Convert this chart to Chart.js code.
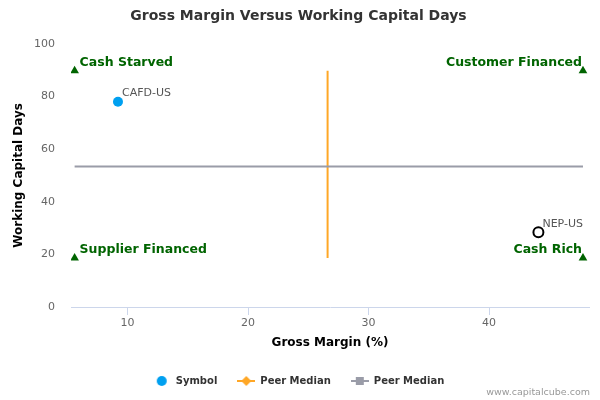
<!DOCTYPE html>
<html>
<head>
<meta charset="utf-8">
<script src="https://cdn.jsdelivr.net/npm/chart.js@4"></script>
<style>
  html, body { margin: 0; padding: 0; background: #fff; }
  #wrap { width: 600px; height: 400px; }
</style>
</head>
<body>
<div id="wrap"><canvas id="chart"></canvas></div>
<script>
// valores
const quadrantNames = ['Cash Starved', 'Customer Financed', 'Supplier Financed', 'Cash Rich'];
const quadrantX = [5.6, 47.8, 5.6, 47.8];
const quadrantY = [89.8, 89.8, 18.6, 18.6];
const symbolNames = ['CAFD-US', 'NEP-US'];
const symbolX = [9.2, 44.1];
const symbolY = [78, 28.4];
const peerMedianX = 26.6;
const peerMedianY = 53.4;
const xTicks = [10, 20, 30, 40];
const yTicks = [0, 20, 40, 60, 80, 100];

const FONT = "'DejaVu Sans', Verdana, sans-serif";

function legendIcon(kind) {
    const c = document.createElement('canvas');
    c.width = 18; c.height = 12;
    const g = c.getContext('2d');
    if (kind === 'circle') {
        g.fillStyle = '#00a0f0';
        g.beginPath(); g.arc(9, 6, 5, 0, Math.PI * 2); g.fill();
    } else if (kind === 'orange') {
        g.strokeStyle = '#ffa726'; g.lineWidth = 2;
        g.beginPath(); g.moveTo(0, 6); g.lineTo(18, 6); g.stroke();
        g.fillStyle = '#ffa726';
        g.beginPath(); g.moveTo(9, 1); g.lineTo(14, 6); g.lineTo(9, 11); g.lineTo(4, 6); g.closePath(); g.fill();
    } else {
        g.strokeStyle = '#9a9ca8'; g.lineWidth = 2;
        g.beginPath(); g.moveTo(0, 6); g.lineTo(18, 6); g.stroke();
        g.fillStyle = '#9a9ca8';
        g.fillRect(5, 2, 8, 8);
    }
    return c;
}

const labelsPlugin = {
    id: 'labelsPlugin',
    afterDatasetsDraw(chart) {
        const ctx = chart.ctx;
        const xs = chart.scales.x, ys = chart.scales.y;
        ctx.save();
        // nomes dos quadrantes
        ctx.font = 'bold 12.5px ' + FONT;
        ctx.fillStyle = '#006400';
        ctx.textBaseline = 'bottom';
        quadrantNames.forEach((n, i) => {
            const px = xs.getPixelForValue(quadrantX[i]);
            const py = ys.getPixelForValue(quadrantY[i]);
            if (i % 2 === 0) {
                ctx.textAlign = 'left';
                ctx.fillText(n, px + 5, py - 2);
            } else {
                ctx.textAlign = 'right';
                ctx.fillText(n, px - 1, py - 2);
            }
        });
        // rótulos dos símbolos
        ctx.font = '11px ' + FONT;
        ctx.fillStyle = '#555';
        ctx.textAlign = 'left';
        ctx.textBaseline = 'bottom';
        symbolNames.forEach((n, i) => {
            const px = xs.getPixelForValue(symbolX[i]);
            const py = ys.getPixelForValue(symbolY[i]);
            ctx.fillText(n, px + 4, py - 3);
        });
        ctx.restore();
    },
    afterDraw(chart) {
        const ctx = chart.ctx;
        ctx.save();
        ctx.font = '9.5px ' + FONT;
        ctx.fillStyle = '#999';
        ctx.textAlign = 'right';
        ctx.textBaseline = 'middle';
        ctx.fillText('www.capitalcube.com', 590, 393);
        ctx.restore();
    }
};

new Chart(document.getElementById('chart'), {
    type: 'scatter',
    data: {
        datasets: [
            {
                label: 'Quadrants',
                data: quadrantX.map((x, i) => ({ x: x, y: quadrantY[i] })),
                pointStyle: 'triangle',
                pointRadius: 5,
                backgroundColor: '#006400',
                borderColor: '#006400',
                borderWidth: 0
            },
            {
                label: 'Peer Median',
                type: 'line',
                data: [{ x: quadrantX[0], y: peerMedianY }, { x: quadrantX[1], y: peerMedianY }],
                borderColor: '#9a9ca8',
                borderWidth: 2,
                pointRadius: 0
            },
            {
                label: 'Peer Median',
                type: 'line',
                data: [{ x: peerMedianX, y: quadrantY[2] }, { x: peerMedianX, y: quadrantY[0] }],
                borderColor: '#ffa726',
                borderWidth: 2,
                pointRadius: 0
            },
            {
                label: 'Symbol',
                data: symbolX.map((x, i) => ({ x: x, y: symbolY[i] })),
                pointRadius: 5,
                backgroundColor: ['#00a0f0', '#ffffff'],
                borderColor: ['#00a0f0', '#000000'],
                borderWidth: [0, 2]
            }
        ]
    },
    options: {
        responsive: true,
        maintainAspectRatio: false,
        animation: false,
        layout: { padding: { left: 8, right: 11, bottom: 4 } },
        plugins: {
            title: {
                display: true,
                text: 'Gross Margin Versus Working Capital Days',
                color: '#333',
                font: { family: FONT, size: 14, weight: 'bold' },
                padding: { top: 8, bottom: 19 }
            },
            legend: {
                position: 'bottom',
                labels: {
                    usePointStyle: true,
                    pointStyleWidth: 18,
                    padding: 20,
                    color: '#333',
                    font: { family: FONT, size: 10, weight: 'bold' },
                    generateLabels() {
                        return [
                            { text: 'Symbol', pointStyle: legendIcon('circle'), fontColor: '#333', lineWidth: 0, datasetIndex: 3 },
                            { text: 'Peer Median', pointStyle: legendIcon('orange'), fontColor: '#333', lineWidth: 0, datasetIndex: 2 },
                            { text: 'Peer Median', pointStyle: legendIcon('gray'), fontColor: '#333', lineWidth: 0, datasetIndex: 1 }
                        ];
                    }
                },
                onClick() {}
            },
            tooltip: { enabled: false }
        },
        scales: {
            x: {
                type: 'linear',
                min: 5.3,
                max: 48.3,
                afterBuildTicks(scale) { scale.ticks = xTicks.map(v => ({ value: v })); },
                afterFit(scale) { scale.height = 49; },
                grid: { drawOnChartArea: false, color: '#ccd6eb', tickLength: 8 },
                border: { color: '#ccd6eb' },
                ticks: { color: '#666', font: { family: FONT, size: 11 }, padding: 2 },
                title: {
                    display: true,
                    text: 'Gross Margin (%)',
                    color: '#000',
                    font: { family: FONT, size: 12, weight: 'bold' },
                    padding: { top: 4, bottom: 6 }
                }
            },
            y: {
                min: 0,
                max: 100,
                afterBuildTicks(scale) { scale.ticks = yTicks.map(v => ({ value: v })); },
                afterFit(scale) { scale.width = 63; },
                grid: { display: false },
                border: { display: false },
                ticks: { color: '#666', font: { family: FONT, size: 11 }, padding: 8 },
                title: {
                    display: true,
                    text: 'Working Capital Days',
                    color: '#000',
                    font: { family: FONT, size: 12, weight: 'bold' }
                }
            }
        }
    },
    plugins: [labelsPlugin]
});
</script>
</body>
</html>
